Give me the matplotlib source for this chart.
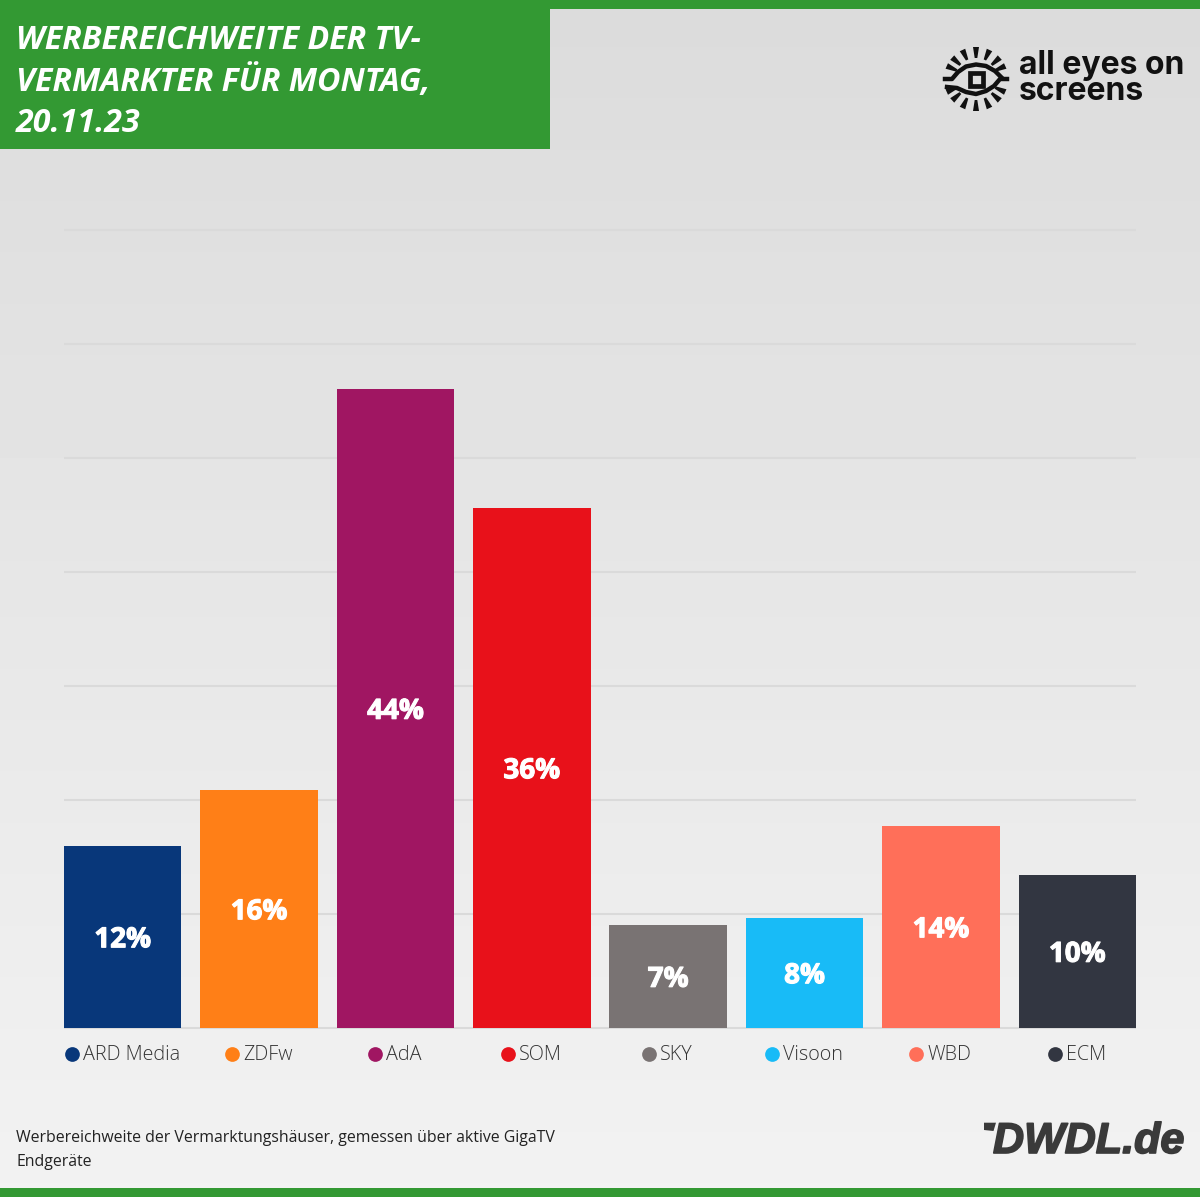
import numpy as np
import matplotlib
matplotlib.use('Agg')
import matplotlib.pyplot as plt
from matplotlib.patches import Rectangle, Polygon
import matplotlib.patheffects as pe

categories = ['ARD Media', 'ZDFw', 'AdA', 'SOM', 'SKY', 'Visoon', 'WBD', 'ECM']
values = [12.55, 16.41, 44.07, 35.86, 7.10, 7.59, 13.93, 10.55]
value_labels = ['12%', '16%', '44%', '36%', '7%', '8%', '14%', '10%']
bar_colors = ['#08377a', '#ff7f17', '#a01662', '#e8111a', '#797373', '#18bbf7', '#ff6f59', '#323641']
grid_values = [0, 7.862, 15.724, 23.586, 31.448, 39.31, 47.172, 55.034]

title_lines = ['WERBEREICHWEITE DER TV-', 'VERMARKTER FÜR MONTAG,', '20.11.23']
footer_lines = ['Werbereichweite der Vermarktungshäuser, gemessen über aktive GigaTV', 'Endgeräte']

GREEN = '#339933'
INK = '#111111'
W, H = 1200, 1197

fig = plt.figure(figsize=(W / 100, H / 100), dpi=100)

# background gradient
bg = fig.add_axes([0, 0, 1, 1], zorder=0)
bg.imshow(np.linspace(0.86, 0.95, 256).reshape(-1, 1), cmap='gray', vmin=0, vmax=1,
          aspect='auto', extent=(0, W, H, 0))
bg.axis('off')

# chart
ax = fig.add_axes([64 / W, 1 - 1028 / H, 1072 / W, 798 / H], zorder=1)
ax.patch.set_alpha(0)
x = np.arange(len(categories))
ax.bar(x, values, width=0.861, color=bar_colors, zorder=3)
ax.set_xlim(-0.4305, 7.4305)
ax.set_ylim(0, 55.034)
ax.set_yticks(grid_values)
ax.set_xticks([])
ax.tick_params(left=False, labelleft=False)
ax.grid(axis='y', color='#dadada', linewidth=1.5, zorder=1, clip_on=False, solid_capstyle='butt')
for s in ax.spines.values():
    s.set_visible(False)
for i, v in enumerate(values):
    ax.annotate(value_labels[i], (i, v / 2), xytext=(0, -2), textcoords='offset points',
                ha='center', va='center', color='white', fontsize=20, fontweight='bold',
                family='Open Sans', zorder=4,
                path_effects=[pe.withStroke(linewidth=0.8, foreground='white')])

# overlay in pixel coordinates
ov = fig.add_axes([0, 0, 1, 1], zorder=2)
ov.set_xlim(0, W)
ov.set_ylim(H, 0)
ov.axis('off')
ov.add_patch(Rectangle((0, 0), W, 9, color=GREEN, lw=0))
ov.add_patch(Rectangle((0, 1188), W, 9, color=GREEN, lw=0))
ov.add_patch(Rectangle((0, 0), 550, 149, color=GREEN, lw=0))

for line, y in zip(title_lines, [49, 91, 132]):
    ov.text(16, y, line, color='white', fontsize=23.1, fontweight='bold', style='italic',
            family='Open Sans', va='baseline', ha='left')

for line, y in zip(footer_lines, [1138, 1162]):
    ov.text(16, y, line, color='#222222', fontsize=11.46, family='Open Sans', va='center', ha='left')

# legend, each entry centred below its bar
renderer = fig.canvas.get_renderer()
for i, name in enumerate(categories):
    cx = ax.transData.transform((i, 0))[0]
    t = ov.text(0, 1055, name, color='#333333', fontsize=14.2, family='Open Sans',
                fontweight='light', va='center', ha='left')
    tw = t.get_window_extent(renderer).width
    left = cx - (tw + 17) / 2
    t.set_x(left + 17)
    ov.plot(left + 6, 1054, 'o', ms=10.6, color=bar_colors[i], mew=0)

# all eyes on screens logo
ex, ey = 976, 79
for ang in [24, 42, 65, 90, 115, 138, 156, -24, -42, -65, -90, -115, -138, -156]:
    a = np.radians(ang)
    r1, r2 = 21, 32
    d = np.array([np.cos(a), -np.sin(a)])
    n = np.array([d[1], -d[0]])
    ov.add_patch(Polygon([(ex, ey) + d * r1 + n * 1.3, (ex, ey) + d * r2 + n * 3,
                          (ex, ey) + d * r2 - n * 3, (ex, ey) + d * r1 - n * 1.3],
                         closed=True, color=INK, lw=0))
ov.plot([945, 952, 958, 966, 976, 986, 995, 1001], [79, 79, 72, 66.5, 64.5, 66, 71, 77],
        color=INK, lw=3.2, solid_joinstyle='round')
ov.plot([1007, 1000, 994, 986, 976, 966, 957, 947], [79, 79, 86, 91, 94, 92, 88, 87],
        color=INK, lw=3.2, solid_joinstyle='round')
ov.add_patch(Rectangle((969.5, 72.5), 13, 13, fill=False, ec=INK, lw=3.4))
ov.text(1019, 100.5, 'all eyes on\nscreens', color=INK, fontsize=23, fontweight='bold', family='Inter',
        va='baseline', ha='left', linespacing=0.8)

# DWDL logo
ov.add_patch(Polygon([(984, 1122.7), (996, 1122.7), (993.5, 1131), (984, 1130)], closed=True,
                     color='#3a3a3a', lw=0))
ov.text(1184, 1153, 'DWDL.de', color='#3a3a3a', fontsize=31, fontweight='bold', style='italic',
        family='Liberation Sans', va='baseline', ha='right',
        path_effects=[pe.withStroke(linewidth=1.2, foreground='#3a3a3a')])

fig.savefig('out.png', dpi=100)
